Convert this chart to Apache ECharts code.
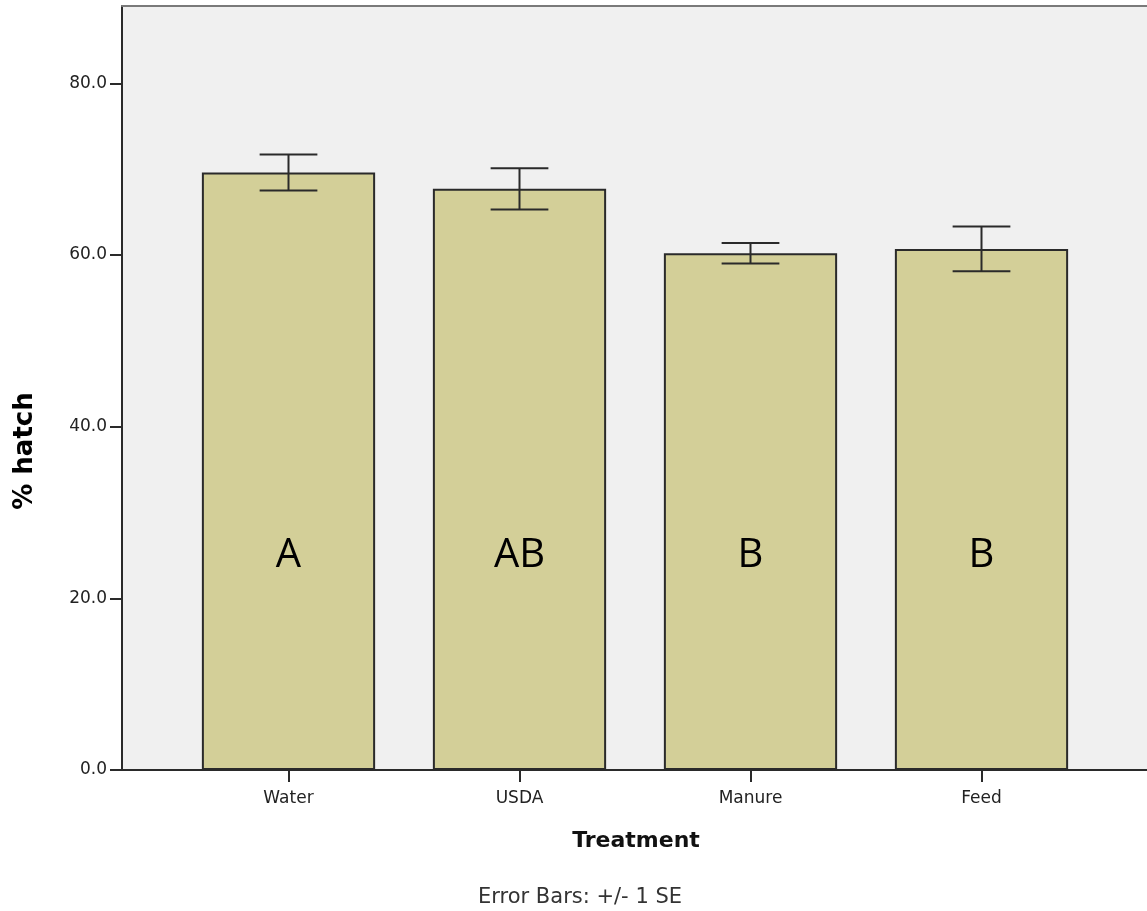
<!DOCTYPE html>
<html>
<head>
<meta charset="utf-8">
<title>% hatch by Treatment</title>
<script src="https://cdn.jsdelivr.net/npm/echarts@6/dist/echarts.min.js"></script>
<style>
  html, body { margin: 0; padding: 0; background: #ffffff; }
  #chart { width: 1147px; height: 911px; }
</style>
</head>
<body>
<div id="chart"></div>
<script>
// Treatment groups and their mean hatch rates (%) with standard errors
const categories = ['Water', 'USDA', 'Manure', 'Feed'];
const meanHatch = [69.6, 67.7, 60.2, 60.7];
const stdError = [2.1, 2.4, 1.2, 2.6];
// Significance grouping letters shown inside each bar
const groupLetters = ['A', 'AB', 'B', 'B'];
// Y-axis tick values
const yTicks = [0, 20, 40, 60, 80];

const Y_MAX = 89;
const LETTER_Y = 25.0;   // height (in axis units) at which the letters sit
const BAR_COLOR = '#d3cf98';
const INK = '#2a2a2a';

const errorData = categories.map((c, i) => [i, meanHatch[i] - stdError[i], meanHatch[i] + stdError[i]]);
const letterData = categories.map((c, i) => [i, LETTER_Y, groupLetters[i]]);

const chart = echarts.init(document.getElementById('chart'), null, { renderer: 'canvas' });

const option = {
  animation: false,
  backgroundColor: '#ffffff',
  grid: [
    // frame, background and value axis (right edge runs past the page)
    { left: 122, top: 6, right: -30, bottom: 141, show: true,
      backgroundColor: '#f0f0f0', borderWidth: 0 },
    // category layout for the bars
    { left: 173, top: 6, right: 50, bottom: 141 }
  ],
  xAxis: [
    { gridIndex: 0, type: 'value', min: 0, max: 1, position: 'bottom',
      axisLine: { show: true, onZero: false, lineStyle: { color: INK, width: 2 } },
      axisTick: { show: false }, axisLabel: { show: false }, splitLine: { show: false } },
    { gridIndex: 1, type: 'category', data: categories, boundaryGap: true,
      axisLine: { show: false },
      axisTick: { show: true, alignWithLabel: true, length: 12, inside: false,
                  lineStyle: { color: INK, width: 2 } },
      axisLabel: { margin: 20, color: '#222', fontFamily: 'DejaVu Sans', fontSize: 17 },
      splitLine: { show: false } },
    // top edge of the frame
    { gridIndex: 0, type: 'value', min: 0, max: 1, position: 'top',
      axisLine: { show: true, onZero: false, lineStyle: { color: '#7a7a7a', width: 2 } },
      axisTick: { show: false }, axisLabel: { show: false }, splitLine: { show: false } }
  ],
  yAxis: [
    { gridIndex: 0, type: 'value', min: 0, max: Y_MAX,
      axisLine: { show: true, lineStyle: { color: INK, width: 2 } },
      axisTick: { show: true, length: 12, customValues: yTicks, lineStyle: { color: INK, width: 2 } },
      axisLabel: { customValues: yTicks, margin: 15, color: '#222', fontFamily: 'DejaVu Sans', fontSize: 17,
                   formatter: v => v.toFixed(1) },
      splitLine: { show: false } },
    { gridIndex: 1, type: 'value', min: 0, max: Y_MAX, show: false,
      splitLine: { show: false } }
  ],
  series: [
    {
      type: 'bar', xAxisIndex: 1, yAxisIndex: 1,
      data: meanHatch,
      barWidth: '75%',
      itemStyle: { color: BAR_COLOR, borderColor: INK, borderWidth: 2 },
      z: 2
    },
    {
      // +/- 1 SE whiskers
      type: 'custom', xAxisIndex: 1, yAxisIndex: 1,
      data: errorData,
      z: 5,
      renderItem: function (params, api) {
        const x = api.value(0);
        const lo = api.coord([x, api.value(1)]);
        const hi = api.coord([x, api.value(2)]);
        const half = api.size([1, 0])[0] * 0.125;
        const style = { stroke: INK, lineWidth: 2 };
        return {
          type: 'group',
          children: [
            { type: 'line', shape: { x1: hi[0], y1: hi[1], x2: lo[0], y2: lo[1] }, style },
            { type: 'line', shape: { x1: hi[0] - half, y1: hi[1], x2: hi[0] + half, y2: hi[1] }, style },
            { type: 'line', shape: { x1: lo[0] - half, y1: lo[1], x2: lo[0] + half, y2: lo[1] }, style }
          ]
        };
      }
    },
    {
      // grouping letters
      type: 'custom', xAxisIndex: 1, yAxisIndex: 1,
      data: letterData,
      z: 6,
      renderItem: function (params, api) {
        const p = api.coord([api.value(0), api.value(1)]);
        return {
          type: 'text',
          x: p[0], y: p[1],
          style: {
            text: groupLetters[params.dataIndex],
            fill: '#000', fontFamily: 'Open Sans', fontSize: 40,
            align: 'center', verticalAlign: 'middle'
          }
        };
      }
    }
  ],
  graphic: [
    { type: 'text', x: 25, y: 451, rotation: Math.PI / 2,
      style: { text: '% hatch', fill: '#000', fontFamily: 'DejaVu Sans', fontWeight: 'bold',
               fontSize: 26, align: 'center', verticalAlign: 'middle' } },
    { type: 'text', x: 636, y: 841,
      style: { text: 'Treatment', fill: '#111', fontFamily: 'DejaVu Sans', fontWeight: 'bold',
               fontSize: 22, align: 'center', verticalAlign: 'middle' } },
    { type: 'text', x: 580, y: 898,
      style: { text: 'Error Bars: +/- 1 SE', fill: '#333', fontFamily: 'DejaVu Sans',
               fontSize: 21, align: 'center', verticalAlign: 'middle' } }
  ]
};

chart.setOption(option);
</script>
</body>
</html>
